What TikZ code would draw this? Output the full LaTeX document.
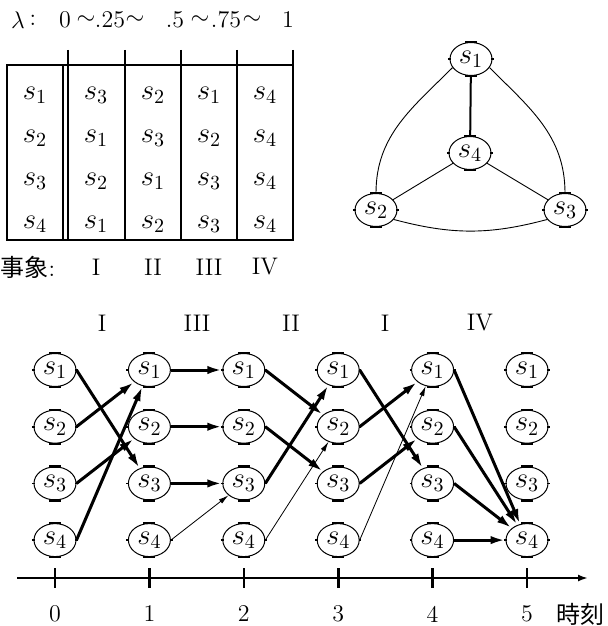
\documentclass[tikz,border=0pt]{standalone}
\usepackage{fontspec}
\newfontfamily\cjk{Noto Sans CJK JP}
\usetikzlibrary{shapes.geometric,arrows.meta,calc}
\begin{document}
\begin{tikzpicture}[x=0.5pt,y=0.5pt,font=\fontsize{12}{14}\selectfont,
  sf/.style={font=\fontsize{14.4}{17}\selectfont},
  st/.style={sf,ellipse,draw,line width=0.5pt,minimum width=21pt,minimum height=16.5pt,inner sep=0pt},
  tk/.style={line width=1.5pt,-{Latex[length=7.5pt,width=4.2pt]}},
  tn/.style={line width=0.4pt,-{Latex[length=5pt,width=2.6pt]}},
  tb/.style={line width=1pt},
  gthin/.style={line width=0.45pt},
  mk/.style={line width=1.1pt},
  axis/.style={line width=1.3pt,-{Latex[length=5pt,width=3.5pt]}}]
\useasboundingbox (0,0) rectangle (608,-626);

% lambda line
\node (lam0) at (18,-20) {$\lambda$};
\node (lamc) at (33,-20) {$:$};
\node (lam1) at (65,-20) {$0$};
\node (lt1) at (86,-20) {$\sim$};
\node (lam2) at (110,-20) {$.25$};
\node (lt2) at (135,-20) {$\sim$};
\node (lam3) at (175,-20) {$.5$};
\node (lt3) at (200,-20) {$\sim$};
\node (lam4) at (226,-20) {$.75$};
\node (lt4) at (252,-20) {$\sim$};
\node (lam5) at (288,-20) {$1$};

% table
\draw[tb] (7,-65) rectangle (293,-240);
\draw[tb] (63,-65) -- (63,-240);
\foreach \x in {68,125,181,237,293} \draw[tb] (\x,-50) -- (\x,-240);
\foreach \x/\vals in {35/{1,2,3,4},96/{3,1,2,1},153/{2,3,1,2},209/{1,2,3,3},265/{4,4,4,4}}{
  \foreach \v [count=\r] in \vals {
    \node[sf] (t\x-\r) at (\x,{-(52+43*\r)}) {$s_{\v}$};
  }
}
\node (ev) at (28,-267) {{\cjk 事象}:};
\node (ev1) at (96,-267) {I};
\node (ev2) at (153,-267) {II};
\node (ev3) at (209,-267) {III};
\node (ev4) at (265,-267) {IV};

% graph
\node[st] (g1) at (471,-59) {$s_1$};
\node[st] (g4) at (470,-153) {$s_4$};
\node[st] (g2) at (376,-210) {$s_2$};
\node[st] (g3) at (565,-210) {$s_3$};
\draw[line width=1pt] (g1) -- (g4);
\draw[gthin] (g4) -- (g2);
\draw[gthin] (g4) -- (g3);
\draw[gthin] (g1.205) to[out=225,in=90] (g2.north);
\draw[gthin] (g1.335) to[out=-45,in=90] (g3.north);
\draw[gthin] (g2.332) to[out=-15,in=195] (g3.208);

% trellis
\foreach \c in {0,...,5}{
  \foreach \r in {1,...,4}{
    \node[st] (n\c\r) at ({55+94.4*\c},{-(370+56.7*(\r-1))}) {$s_{\r}$};
  }
}
\node (e1) at (102,-323) {I};
\node (e2) at (197,-323) {III};
\node (e3) at (291,-323) {II};
\node (e4) at (385,-323) {I};
\node (e5) at (480,-323) {IV};

\draw[tk] (n01.east) -- (n13);
\draw[tk] (n02.east) -- (n11);
\draw[tk] (n03.east) -- (n12);
\draw[tk] (n04.east) -- (n11);

\draw[tk] (n11.east) -- (n21);
\draw[tk] (n12.east) -- (n22);
\draw[tk] (n13.east) -- (n23);
\draw[tn] (n14.east) -- (n23);

\draw[tk] (n21.east) -- (n32);
\draw[tk] (n22.east) -- (n33);
\draw[tk] (n23.east) -- (n31);
\draw[tn] (n24.east) -- (n32);

\draw[tk] (n31.east) -- (n43);
\draw[tk] (n32.east) -- (n41);
\draw[tk] (n33.east) -- (n42);
\draw[tn] (n34.east) -- (n41);

\draw[tk] (n41.east) -- (n54);
\draw[tk] (n42.east) -- (n54);
\draw[tk] (n43.east) -- (n54);
\draw[tk] (n44.east) -- (n54);

% ellipse marks
\foreach \n in {g1,g2,g3,g4,n01,n02,n03,n04,n11,n12,n13,n14,n21,n22,n23,n24,n31,n32,n33,n34,n41,n42,n43,n44,n51,n52,n53,n54}{
  \draw[mk] ([xshift=-3pt]\n.north) -- ([xshift=3pt]\n.north);
  \draw[mk] ([xshift=-3pt]\n.south) -- ([xshift=3pt]\n.south);
  \draw[line width=0.8pt] ([xshift=-0.8pt]\n.west) -- ([xshift=0.6pt]\n.west);
  \draw[line width=0.8pt] ([xshift=-0.6pt]\n.east) -- ([xshift=0.8pt]\n.east);
}

% axis
\coordinate (axL) at (17,-578);
\coordinate (axR) at (588,-578);
\draw[axis] (axL) -- (axR);
\foreach \c in {0,...,5}{
  \draw[line width=1.3pt] ({55+94.4*\c},-568) -- ({55+94.4*\c},-588);
  \node (d\c) at ({55+94.4*\c},-614) {\c};
}
\node (tm) at (580,-614) {\cjk 時刻};
\end{tikzpicture}
\end{document}
